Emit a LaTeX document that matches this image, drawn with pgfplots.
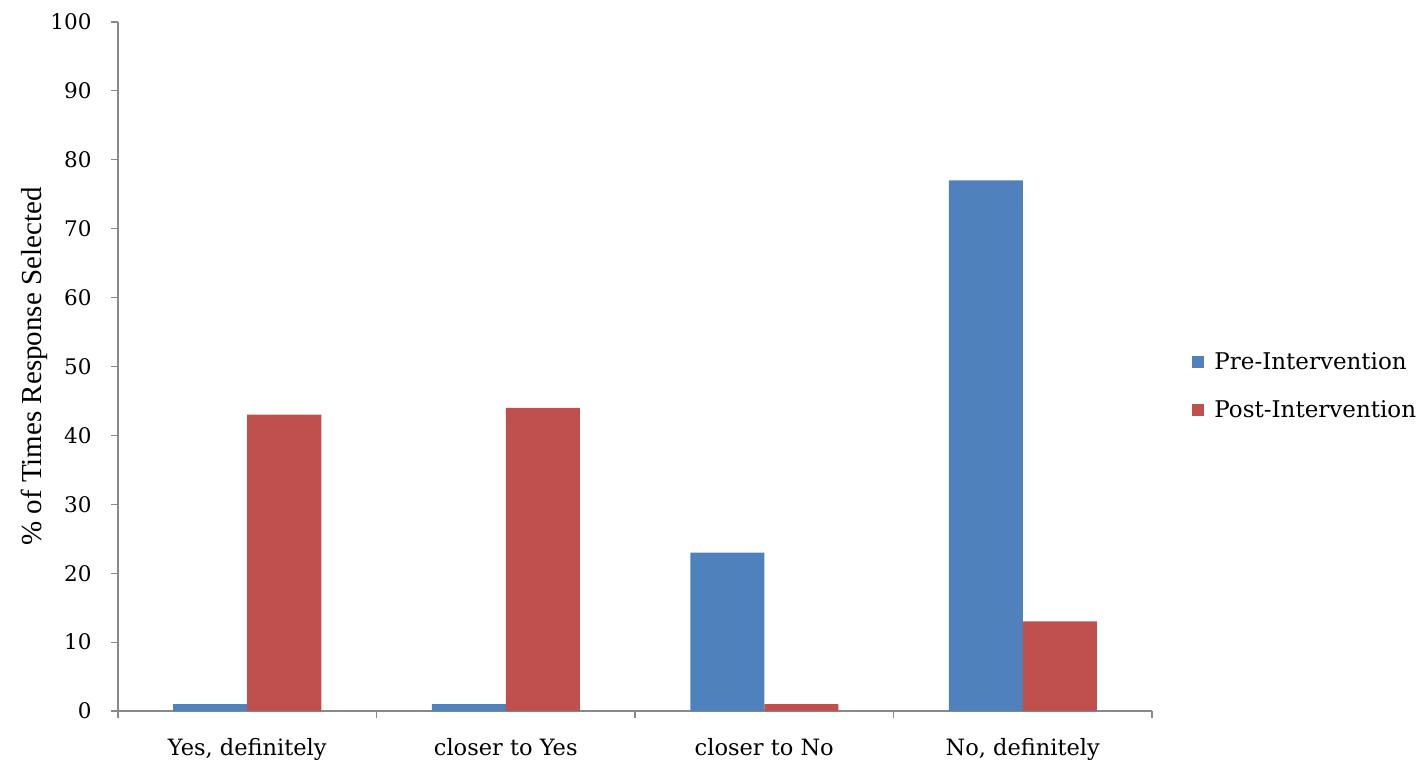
\documentclass[border=0pt]{standalone}
\usepackage{fontspec}
\setmainfont{DejaVu Serif}
\newfontfamily\labfont{Liberation Serif}
\usepackage{pgfplots}
\pgfplotsset{compat=1.18}
\definecolor{preblue}{HTML}{4F81BD}
\definecolor{postred}{HTML}{C0504D}
\definecolor{axgray}{HTML}{898989}
\begin{document}
\begin{tikzpicture}
\path[use as bounding box] (-118pt,-53pt) rectangle (1307pt,711pt);
\begin{axis}[
  at={(0,0)}, anchor=south west,
  scale only axis, width=1034pt, height=689pt,
  ybar=0pt, bar width=74pt,
  xmin=-0.5, xmax=3.5, ymin=0, ymax=100,
  ytick={0,10,...,100},
  axis x line*=bottom, axis y line*=left,
  axis line style={draw=axgray, line width=1.2pt},
  every tick/.style={draw=axgray, line width=1.2pt},
  tick align=outside, major tick length=7pt,
  xtick={-0.5,0.5,1.5,2.5,3.5}, xticklabels={},
  extra x ticks={0,1,2,3},
  extra x tick labels={{Yes, definitely}, {closer to Yes}, {closer to No}, {No, definitely}},
  extra x tick style={major tick length=0pt, tick label style={yshift=-24pt}},
  tick label style={font=\fontsize{22.5}{26}\selectfont},
  /pgf/number format/assume math mode=true,
  yticklabel style={xshift=-16pt, font=\fontsize{21.5}{25}\selectfont},
  ylabel={\labfont\fontsize{29}{33}\selectfont \% of Times Response Selected},
  ylabel style={yshift=-4pt},
  legend style={at={(1.036,0.472)}, anchor=west, draw=none, fill=none,
    font=\fontsize{23}{27}\selectfont, row sep=25pt,
    legend cell align=left,
    /tikz/every odd column/.append style={column sep=8pt}},
  legend image code/.code={\fill[#1] (0pt,-6pt) rectangle (12pt,6pt);},
]
\addplot[fill=preblue, draw=none] coordinates {(0,1) (1,1) (2,23) (3,77)};
\addplot[fill=postred, draw=none] coordinates {(0,43) (1,44) (2,1) (3,13)};
\legend{Pre-Intervention, Post-Intervention}
\end{axis}
\end{tikzpicture}
\end{document}
